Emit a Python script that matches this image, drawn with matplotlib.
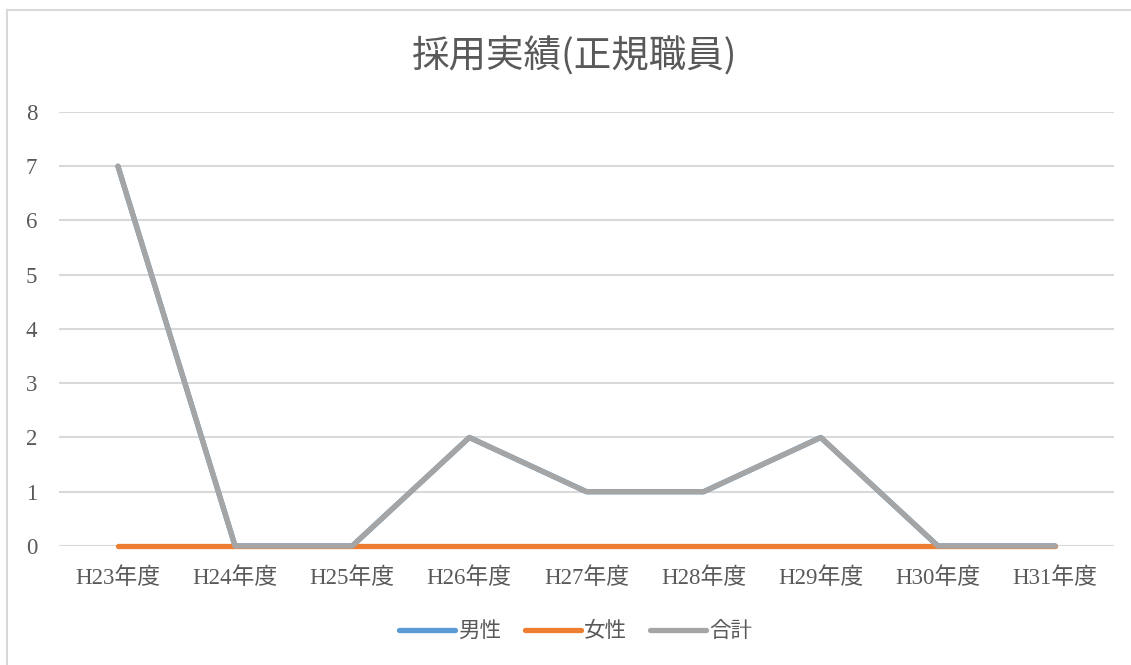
import matplotlib
matplotlib.use('Agg')
import matplotlib.pyplot as plt
from matplotlib.patches import Rectangle

categories = ['H23年度', 'H24年度', 'H25年度', 'H26年度', 'H27年度',
              'H28年度', 'H29年度', 'H30年度', 'H31年度']
male = [7, 0, 0, 2, 1, 1, 2, 0, 0]
female = [0, 0, 0, 0, 0, 0, 0, 0, 0]
total = [7, 0, 0, 2, 1, 1, 2, 0, 0]

fam = ['Liberation Serif', 'Noto Sans CJK JP', 'DejaVu Sans']
plt.rcParams['font.family'] = fam
txt = '#595959'

fig = plt.figure(figsize=(11.31, 6.65), dpi=100)
fig.patches.append(Rectangle((7 / 1131, -0.1), 1.2, (665 - 10) / 665 + 0.1,
                             transform=fig.transFigure, fill=False,
                             edgecolor='#d9d9d9', linewidth=1.5))
ax = fig.add_axes([0.0525, 0.179, 0.9321, 0.6526])

x = range(len(categories))
ax.plot(x, male, color='#5B9BD5', lw=3.8, solid_capstyle='round', label='男性',
        zorder=3, clip_on=False)
ax.plot(x, female, color='#ED7D31', lw=3.8, solid_capstyle='round', label='女性',
        zorder=4, clip_on=False)
ax.plot(x, total, color='#A5A5A5', lw=3.8, solid_capstyle='round',
        solid_joinstyle='round', label='合計', zorder=5, clip_on=False)

ax.set_xlim(-0.5, len(categories) - 0.5)
ax.set_ylim(0, 8)
ax.set_yticks(range(0, 9))
ax.set_xticks(list(x))
ax.set_xticklabels(categories)
ax.grid(axis='y', color='#d9d9d9', lw=1.5, zorder=0)
ax.set_axisbelow(True)
for s in ax.spines.values():
    s.set_visible(False)
ax.tick_params(axis='both', length=0, labelsize=16.5, labelcolor=txt)
ax.tick_params(axis='x', pad=15)
ax.tick_params(axis='y', pad=16)

fig.text(0.508, 1 - 57 / 665, '採用実績(正規職員)', ha='center', va='center',
         fontsize=27, color=txt, family=['Noto Sans CJK JP', 'DejaVu Sans'])

fig.legend(loc='center', bbox_to_anchor=(0.509, 1 - 632 / 665), ncol=3,
           frameon=False, fontsize=15.5, handlelength=2.6, handletextpad=0.15,
           columnspacing=1.1, labelcolor=txt)

fig.savefig('out.png', dpi=100)
